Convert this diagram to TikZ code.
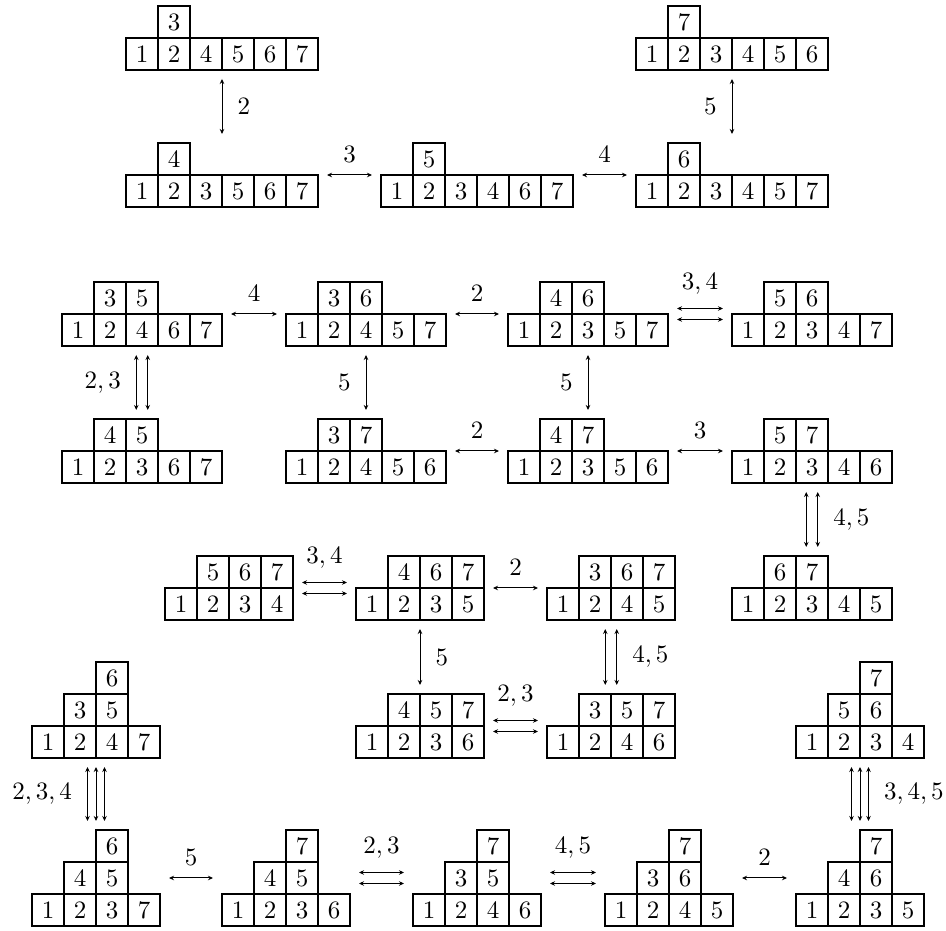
\documentclass[tikz,border=0pt]{standalone}
\usetikzlibrary{arrows.meta,fit}

% one row of boxes: name prefix, left, bottom, entries
\newcommand\yrow[4]{%
  \foreach \v [count=\i] in {#4}
    \node[cell] (#1\i) at ({#2+32*\i-16},{#3+16}) {$\v$};}
% invisible node round a whole tableau: name, left, bottom, columns, rows
\newcommand\hullbox[5]{%
  \node[hull,fit={(#2,#3)({#2+32*#4},{#3+32*#5})}] (#1) {};}

\begin{document}
\begin{tikzpicture}[
  x=.4pt,y=.4pt,
  cell/.style={draw,line width=.75pt,minimum size=12.8pt,inner sep=0pt,outer sep=0pt},
  hull/.style={inner sep=0pt,outer sep=0pt},
  link/.style={{Stealth[length=2pt,width=1.8pt]}-{Stealth[length=2pt,width=1.8pt]},
               line width=.4pt,shorten <=3.6pt,shorten >=3.6pt},
  hlab/.style={anchor=base,yshift=4.8pt,inner sep=0pt},
  hlabb/.style={anchor=base,yshift=7.5pt,inner sep=0pt},
  vlab/.style={inner sep=0pt}
]
\useasboundingbox (0,0) rectangle (946,931);

% Shapes (6,1).
\yrow{t3a}{126}{861}{1,2,4,5,6,7} \yrow{t3b}{158}{893}{3}
\hullbox{t3}{126}{861}{6}{2}
\yrow{t4a}{126}{724}{1,2,3,5,6,7} \yrow{t4b}{158}{756}{4}
\hullbox{t4}{126}{724}{6}{2}
\yrow{t5a}{381}{724}{1,2,3,4,6,7} \yrow{t5b}{413}{756}{5}
\hullbox{t5}{381}{724}{6}{2}
\yrow{t6a}{636}{724}{1,2,3,4,5,7} \yrow{t6b}{668}{756}{6}
\hullbox{t6}{636}{724}{6}{2}
\yrow{t7a}{636}{861}{1,2,3,4,5,6} \yrow{t7b}{668}{893}{7}
\hullbox{t7}{636}{861}{6}{2}

\draw[link] (t3.south) -- node[vlab,right=6pt] {$2$} (t4.north);
\draw[link] (t4.east) -- node[hlab] {$3$} (t5.west);
\draw[link] (t5.east) -- node[hlab] {$4$} (t6.west);
\draw[link] (t7.south) -- node[vlab,left=6pt] {$5$} (t6.north);

% Shapes (5,2).
\yrow{t35a}{62}{585}{1,2,4,6,7} \yrow{t35b}{94}{617}{3,5}
\hullbox{t35}{62}{585}{5}{2}
\yrow{t36a}{286}{585}{1,2,4,5,7} \yrow{t36b}{318}{617}{3,6}
\hullbox{t36}{286}{585}{5}{2}
\yrow{t46a}{508}{585}{1,2,3,5,7} \yrow{t46b}{540}{617}{4,6}
\hullbox{t46}{508}{585}{5}{2}
\yrow{t56a}{732}{585}{1,2,3,4,7} \yrow{t56b}{764}{617}{5,6}
\hullbox{t56}{732}{585}{5}{2}
\yrow{t45a}{62}{448}{1,2,3,6,7} \yrow{t45b}{94}{480}{4,5}
\hullbox{t45}{62}{448}{5}{2}
\yrow{t37a}{286}{448}{1,2,4,5,6} \yrow{t37b}{318}{480}{3,7}
\hullbox{t37}{286}{448}{5}{2}
\yrow{t47a}{508}{448}{1,2,3,5,6} \yrow{t47b}{540}{480}{4,7}
\hullbox{t47}{508}{448}{5}{2}
\yrow{t57a}{732}{448}{1,2,3,4,6} \yrow{t57b}{764}{480}{5,7}
\hullbox{t57}{732}{448}{5}{2}

\draw[link] (t35.east) -- node[hlab] {$4$} (t36.west);
\draw[link] (t36.east) -- node[hlab] {$2$} (t46.west);
\draw[link] ([yshift=2.2pt]t46.east) -- node[hlabb] {$3,4$} ([yshift=2.2pt]t56.west);
\draw[link] ([yshift=-2.2pt]t46.east) -- ([yshift=-2.2pt]t56.west);
\draw[link] ([xshift=-2.3pt]t35.south) -- node[vlab,left=6pt] {$2,3$} ([xshift=-2.3pt]t45.north);
\draw[link] ([xshift=2.3pt]t35.south) -- ([xshift=2.3pt]t45.north);
\draw[link] (t36.south) -- node[vlab,left=6pt] {$5$} (t37.north);
\draw[link] (t46.south) -- node[vlab,left=6pt] {$5$} (t47.north);
\draw[link] (t37.east) -- node[hlab] {$2$} (t47.west);
\draw[link] (t47.east) -- node[hlab] {$3$} (t57.west);

% Shapes (4,3) and (5,2) again.
\yrow{t567a}{165}{311}{1,2,3,4} \yrow{t567b}{197}{343}{5,6,7}
\hullbox{t567}{165}{311}{4}{2}
\yrow{t467a}{356}{311}{1,2,3,5} \yrow{t467b}{388}{343}{4,6,7}
\hullbox{t467}{356}{311}{4}{2}
\yrow{t367a}{547}{311}{1,2,4,5} \yrow{t367b}{579}{343}{3,6,7}
\hullbox{t367}{547}{311}{4}{2}
\yrow{t67a}{732}{311}{1,2,3,4,5} \yrow{t67b}{764}{343}{6,7}
\hullbox{t67}{732}{311}{5}{2}
\yrow{t457a}{356}{173}{1,2,3,6} \yrow{t457b}{388}{205}{4,5,7}
\hullbox{t457}{356}{173}{4}{2}
\yrow{t357a}{547}{173}{1,2,4,6} \yrow{t357b}{579}{205}{3,5,7}
\hullbox{t357}{547}{173}{4}{2}

\draw[link] ([xshift=-2.3pt]t57.south) -- ([xshift=-2.3pt]t67.north);
\draw[link] ([xshift=2.3pt]t57.south) -- node[vlab,right=6pt] {$4,5$} ([xshift=2.3pt]t67.north);
\draw[link] ([yshift=2.2pt]t567.east) -- node[hlabb] {$3,4$} ([yshift=2.2pt]t467.west);
\draw[link] ([yshift=-2.2pt]t567.east) -- ([yshift=-2.2pt]t467.west);
\draw[link] (t467.east) -- node[hlab] {$2$} (t367.west);
\draw[link] (t467.south) -- node[vlab,right=6pt] {$5$} (t457.north);
\draw[link] ([xshift=-2.3pt]t367.south) -- ([xshift=-2.3pt]t357.north);
\draw[link] ([xshift=2.3pt]t367.south) -- node[vlab,right=6pt] {$4,5$} ([xshift=2.3pt]t357.north);
\draw[link] ([yshift=2.2pt]t457.east) -- node[hlabb] {$2,3$} ([yshift=2.2pt]t357.west);
\draw[link] ([yshift=-2.2pt]t457.east) -- ([yshift=-2.2pt]t357.west);

% Shapes (4,2,1).
\yrow{t635a}{32}{173}{1,2,4,7} \yrow{t635b}{64}{205}{3,5} \yrow{t635c}{96}{237}{6}
\hullbox{t635}{32}{173}{4}{3}
\yrow{t756a}{796}{173}{1,2,3,4} \yrow{t756b}{828}{205}{5,6} \yrow{t756c}{860}{237}{7}
\hullbox{t756}{796}{173}{4}{3}
\yrow{t645a}{32}{5}{1,2,3,7} \yrow{t645b}{64}{37}{4,5} \yrow{t645c}{96}{69}{6}
\hullbox{t645}{32}{5}{4}{3}
\yrow{t745a}{222}{5}{1,2,3,6} \yrow{t745b}{254}{37}{4,5} \yrow{t745c}{286}{69}{7}
\hullbox{t745}{222}{5}{4}{3}
\yrow{t735a}{413}{5}{1,2,4,6} \yrow{t735b}{445}{37}{3,5} \yrow{t735c}{477}{69}{7}
\hullbox{t735}{413}{5}{4}{3}
\yrow{t736a}{605}{5}{1,2,4,5} \yrow{t736b}{637}{37}{3,6} \yrow{t736c}{669}{69}{7}
\hullbox{t736}{605}{5}{4}{3}
\yrow{t746a}{796}{5}{1,2,3,5} \yrow{t746b}{828}{37}{4,6} \yrow{t746c}{860}{69}{7}
\hullbox{t746}{796}{5}{4}{3}

\draw[link] ([xshift=-3.4pt]t635.south) -- node[vlab,left=6pt] {$2,3,4$} ([xshift=-3.4pt]t645.north);
\draw[link] (t635.south) -- (t645.north);
\draw[link] ([xshift=3.4pt]t635.south) -- ([xshift=3.4pt]t645.north);
\draw[link] ([xshift=-3.4pt]t756.south) -- ([xshift=-3.4pt]t746.north);
\draw[link] (t756.south) -- (t746.north);
\draw[link] ([xshift=3.4pt]t756.south) -- node[vlab,right=6pt] {$3,4,5$} ([xshift=3.4pt]t746.north);
\draw[link] (t645.east) -- node[hlab] {$5$} (t745.west);
\draw[link] ([yshift=2.2pt]t745.east) -- node[hlabb] {$2,3$} ([yshift=2.2pt]t735.west);
\draw[link] ([yshift=-2.2pt]t745.east) -- ([yshift=-2.2pt]t735.west);
\draw[link] ([yshift=2.2pt]t735.east) -- node[hlabb] {$4,5$} ([yshift=2.2pt]t736.west);
\draw[link] ([yshift=-2.2pt]t735.east) -- ([yshift=-2.2pt]t736.west);
\draw[link] (t736.east) -- node[hlab] {$2$} (t746.west);

\end{tikzpicture}
\end{document}
